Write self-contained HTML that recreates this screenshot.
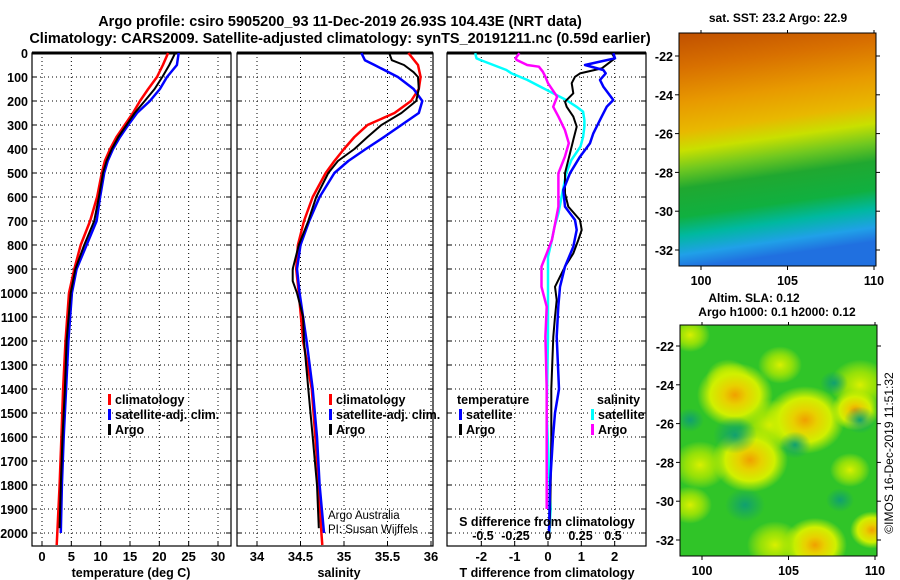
<!DOCTYPE html>
<html><head><meta charset="utf-8"><style>
body{margin:0;background:#fff;}
svg{display:block;font-family:"Liberation Sans",Arial,sans-serif;font-weight:bold;}
</style></head><body>
<svg id="s" width="900" height="580" viewBox="0 0 900 580">
<defs>
<linearGradient id="sst" x1="0" y1="0" x2="0.12" y2="1">
<stop offset="0" stop-color="#c05000"/><stop offset="0.15" stop-color="#d87000"/>
<stop offset="0.3" stop-color="#e89a00"/><stop offset="0.42" stop-color="#e8b800"/>
<stop offset="0.5" stop-color="#c8e000"/><stop offset="0.58" stop-color="#70c820"/>
<stop offset="0.66" stop-color="#20a830"/><stop offset="0.78" stop-color="#10b040"/>
<stop offset="0.86" stop-color="#00b8a0"/><stop offset="0.94" stop-color="#20a0e8"/>
<stop offset="1" stop-color="#2070e0"/></linearGradient>
<radialGradient id="ye"><stop offset="0" stop-color="#f0a000"/><stop offset="0.3" stop-color="#e8d000"/><stop offset="0.65" stop-color="#d0f000"/><stop offset="1" stop-color="#c8f000" stop-opacity="0"/></radialGradient>
<radialGradient id="yl"><stop offset="0" stop-color="#d8f000"/><stop offset="0.5" stop-color="#b0e800" stop-opacity="0.8"/><stop offset="1" stop-color="#c8f000" stop-opacity="0"/></radialGradient>
<radialGradient id="tl"><stop offset="0" stop-color="#10a070"/><stop offset="1" stop-color="#10a070" stop-opacity="0"/></radialGradient>
<clipPath id="slaclip"><rect x="680" y="325" width="197" height="231"/></clipPath>
</defs>
<g id="g"></g>
</svg>
<script>
// ===== data =====
const depthTicks=[0,100,200,300,400,500,600,700,800,900,1000,1100,1200,1300,1400,1500,1600,1700,1800,1900,2000];
const tTicks=[0,5,10,15,20,25,30];
const sTicks=[34,34.5,35,35.5,36];
const dTicks=[-2,-1,0,1,2];
const dsTicks=[-0.5,-0.25,0,0.25,0.5];
const tClimDepth=[0,50,100,150,200,250,300,350,400,450,500,600,700,800,900,1000,1200,1400,1600,1800,2000,2050];
const tClim=[21.5,20.6,19.6,18.1,16.7,15.5,14.1,12.7,11.6,10.7,10.2,9.4,8.2,6.6,5.5,4.6,4.0,3.6,3.3,3.0,2.6,2.5];
const tSatDepth=[0,50,100,150,200,250,300,350,400,450,500,600,700,800,900,1000,1200,1400,1600,1800,2000];
const tSat=[23.3,23.0,21.3,20.1,18.4,16.2,14.7,13.3,12.1,11.2,10.6,9.9,9.3,7.6,5.9,5.1,4.5,4.1,3.7,3.4,3.2];
const tArgoDepth=[0,50,100,150,200,250,300,350,400,450,500,600,700,800,900,1000,1200,1400,1600,1800,1980];
const tArgo=[22.7,21.7,20.5,19.2,17.5,15.8,14.4,13.0,11.9,11.0,10.4,9.7,8.9,7.2,5.7,4.9,4.2,3.9,3.5,3.2,3.0];
const sClimDepth=[0,50,100,150,200,250,300,350,400,450,500,600,700,800,900,1000,1200,1400,1600,1800,2000,2050];
const sClim=[35.74,35.85,35.88,35.86,35.77,35.58,35.27,35.12,35.0,34.89,34.79,34.64,34.54,34.47,34.45,34.48,34.53,34.63,34.67,34.71,34.74,34.75];
const sSatDepth=[0,30,50,100,150,200,250,300,350,400,450,500,600,700,800,900,1000,1200,1400,1600,1800,2000];
const sSat=[35.2,35.24,35.35,35.62,35.8,35.9,35.86,35.66,35.46,35.25,35.05,34.89,34.72,34.6,34.5,34.46,34.49,34.57,34.64,34.69,34.72,34.77];
const sArgoDepth=[0,30,50,80,100,150,200,250,300,350,400,450,500,600,700,800,900,950,1000,1100,1200,1400,1600,1800,1980];
const sArgo=[35.52,35.55,35.69,35.8,35.85,35.86,35.83,35.66,35.43,35.27,35.12,34.93,34.82,34.68,34.59,34.48,34.41,34.41,34.46,34.53,34.54,34.59,34.64,34.69,34.71];
const dtSatDepth=[1,22,36,50,71,85,112,140,196,224,265,335,376,432,501,571,640,696,737,807,890,974,1057,1182,1400,1500,1600,1800,2000];
const dtSat=[1.96,2.01,1.56,1.11,1.66,1.73,1.56,1.66,1.96,1.76,1.61,1.36,1.26,0.96,0.66,0.46,0.51,0.81,0.86,0.76,0.51,0.36,0.31,0.26,0.33,0.21,0.15,0.06,0.03];
const dtArgoDepth=[1,22,64,85,99,126,168,203,224,265,307,362,418,501,585,640,696,737,779,835,890,974,1029,1099,1182,1400,1600,1800,1980];
const dtArgo=[1.91,2.01,1.61,0.96,0.81,0.71,0.76,0.51,0.56,0.76,0.86,0.76,0.66,0.51,0.51,0.61,0.96,1.01,0.91,0.76,0.51,0.21,0.26,0.21,0.16,0.1,0.1,0.08,0.05];
const dsSatDepth=[1,22,29,50,71,85,112,140,168,196,224,245,280,307,349,390,446,501,557,612,668,724,779,849,918,1057,1182,1500,1900,2000];
const dsSat=[-0.56,-0.55,-0.52,-0.42,-0.32,-0.28,-0.16,-0.06,0.04,0.14,0.22,0.27,0.28,0.28,0.27,0.25,0.18,0.14,0.12,0.10,0.08,0.05,0.03,0.0,0.0,0.0,0.0,-0.01,0.02,0.01];
const dsArgoDepth=[1,22,29,50,57,78,99,126,182,224,265,321,376,432,501,571,640,724,779,835,890,974,1057,1182,1400,1500,1900];
const dsArgo=[-0.22,-0.25,-0.24,-0.16,-0.07,-0.04,-0.02,0.0,0.07,0.04,0.08,0.13,0.16,0.13,0.08,0.08,0.08,0.05,0.03,-0.01,-0.05,-0.05,-0.01,-0.02,-0.01,-0.01,-0.01];
const lonTicks=[100,105,110];
const latTicks=[-22,-24,-26,-28,-30,-32];

// ===== helpers =====
const NS='http://www.w3.org/2000/svg';
const G=document.getElementById('g');
function mk(tag,attrs,parent){const e=document.createElementNS(NS,tag);for(const k in attrs)e.setAttribute(k,attrs[k]);(parent||G).appendChild(e);return e;}
function txt(x,y,s,size,anchor,parent,fill){const t=mk('text',{x:x,y:y,'font-size':size,'text-anchor':anchor||'middle',fill:fill||'#000'},parent);t.textContent=s;return t;}
const Y0=53,YK=0.24,YB=546;
const yD=d=>Y0+d*YK;
function lin(d0,d1,r0,r1){return v=>r0+(v-d0)*(r1-r0)/(d1-d0);}

function panel(name,x0,x1,xs,xticks,fmt,gridTicks){
  const g=mk('g',{});
  
  
  const grid=mk('g',{stroke:'#000','stroke-width':1,'stroke-dasharray':'1,3'},g);
  
  
  depthTicks.forEach(d=>{if(d>0)mk('line',{x1:x0,x2:x1,y1:yD(d),y2:yD(d)},grid);});
  (gridTicks||xticks).forEach(v=>{mk('line',{x1:xs(v),x2:xs(v),y1:Y0,y2:YB},grid);});
  mk('rect',{x:x0,y:Y0,width:x1-x0,height:YB-Y0,fill:'none',stroke:'#000','stroke-width':1.2},g);
  mk('line',{x1:x0,x2:x1,y1:Y0,y2:Y0,stroke:'#000','stroke-width':3},g);
  depthTicks.forEach(d=>{mk('line',{x1:x0,x2:x0+5,y1:yD(d),y2:yD(d),stroke:'#000'},g);mk('line',{x1:x1-5,x2:x1,y1:yD(d),y2:yD(d),stroke:'#000'},g);});
  xticks.forEach(v=>{mk('line',{x1:xs(v),x2:xs(v),y1:YB,y2:YB-5,stroke:'#000'},g);
    const t=txt(xs(v),561,fmt(v),13,'middle',g);
    
    });
  return g;
}
function series(name,ds,vs,xs,color,w,parent){
  let d='';ds.forEach((dd,i)=>{d+=(i?'L':'M')+xs(vs[i]).toFixed(1)+','+yD(dd).toFixed(1);});
  const p=mk('path',{d:d,fill:'none',stroke:color,'stroke-width':w,'stroke-linejoin':'round'},parent);
  
  
}
function legend(x,y,color,label,parent){
  mk('rect',{x:x,y:y-10,width:3,height:11,fill:color},parent);
  const t=txt(x+7,y,label,12.5,'start',parent);
  
  
}

// titles
let t1=txt(340,26,'Argo profile: csiro 5905200_93 11-Dec-2019 26.93S 104.43E (NRT data)',14.5,'middle');


let t2=txt(340,43,'Climatology: CARS2009. Satellite-adjusted climatology: synTS_20191211.nc (0.59d earlier)',14.5,'middle');



// depth labels
depthTicks.forEach(d=>{const t=txt(28,yD(d)+5,String(d),12.5,'end');
  
  });

// Panel 1 temperature
const xT=lin(0,30,42,218);
const p1=panel('temperature-panel',32,231,xT,tTicks,v=>String(v));
series('temp-climatology',tClimDepth,tClim,xT,'#f00',2.5,p1);
series('temp-satellite-adj',tSatDepth,tSat,xT,'#00f',2.5,p1);
series('temp-argo',tArgoDepth,tArgo,xT,'#000',2,p1);
legend(108,404,'#f00','climatology',p1);legend(108,419,'#00f','satellite-adj. clim.',p1);legend(108,434,'#000','Argo',p1);
let a1=txt(131,577,'temperature (deg C)',12.5,'middle');



// Panel 2 salinity
const xS=lin(34,36,257,431);
const p2=panel('salinity-panel',237,433,xS,sTicks,v=>String(v));
series('sal-climatology',sClimDepth,sClim,xS,'#f00',2.5,p2);
series('sal-satellite-adj',sSatDepth,sSat,xS,'#00f',2.5,p2);
series('sal-argo',sArgoDepth,sArgo,xS,'#000',2,p2);
legend(329,404,'#f00','climatology',p2);legend(329,419,'#00f','satellite-adj. clim.',p2);legend(329,434,'#000','Argo',p2);
let cr1=txt(328,519,'Argo Australia',11.5,'start',p2);cr1.setAttribute('font-weight','normal');


let cr2=txt(328,533,'PI: Susan Wijffels',11.5,'start',p2);cr2.setAttribute('font-weight','normal');


let a2=txt(339,577,'salinity',12.5,'middle');



// Panel 3 differences
const xD=lin(-3,3,448,648);
const xDS=lin(-0.5,0.5,483,613);
const p3=panel('difference-panel',447,646,xD,dTicks,v=>String(v));
series('sal-diff-satellite',dsSatDepth,dsSat,xDS,'#0ff',2.5,p3);
series('sal-diff-argo',dsArgoDepth,dsArgo,xDS,'#f0f',2.5,p3);
series('temp-diff-argo',dtArgoDepth,dtArgo,xD,'#000',2,p3);
series('temp-diff-satellite',dtSatDepth,dtSat,xD,'#00f',2.5,p3);
txt(457,404,'temperature',12.5,'start',p3);
legend(459,419,'#00f','satellite',p3);legend(459,434,'#000','Argo',p3);
txt(597,404,'salinity',12.5,'start',p3);
legend(591,419,'#0ff','satellite',p3);legend(591,434,'#f0f','Argo',p3);
let sl=txt(547,526,'S difference from climatology',12.5,'middle',p3);


dsTicks.forEach(v=>{const t=txt(xDS(v),540,String(v),12.5,'middle',p3);
  
  });
let a3=txt(547,577,'T difference from climatology',12.5,'middle');



// Maps
function map(name,x0,y0,x1,y1,lat22,lat32,fill,extra){
  const g=mk('g',{});
  
  
  mk('rect',{x:x0,y:y0,width:x1-x0,height:y1-y0,fill:fill},g);
  if(extra)extra(g);
  mk('rect',{x:x0,y:y0,width:x1-x0,height:y1-y0,fill:'none',stroke:'#000','stroke-width':1},g);
  const xl=lin(100,110,x0+22,x1-2);
  const yl=lin(-22,-32,lat22,lat32);
  lonTicks.forEach(v=>{mk('line',{x1:xl(v),x2:xl(v),y1:y1,y2:y1+4,stroke:'#000'},g);mk('line',{x1:xl(v),x2:xl(v),y1:y0,y2:y0-3,stroke:'#000'},g);
    txt(xl(v),y1+19,String(v),12.5,'middle',g);});
  latTicks.forEach(v=>{mk('line',{x1:x0-4,x2:x0,y1:yl(v),y2:yl(v),stroke:'#000'},g);mk('line',{x1:x1,x2:x1+4,y1:yl(v),y2:yl(v),stroke:'#000'},g);
    txt(x0-6,yl(v)+5,String(v),12.5,'end',g);});
  return g;
}
let m1t=txt(778,22,'sat. SST: 23.2 Argo: 22.9',12,'middle');


map('sst-map',679,33,876,266,56,250,'url(#sst)');
let m2a=txt(754,302,'Altim. SLA: 0.12',12,'middle');


let m2b=txt(777,316,'Argo h1000: 0.1 h2000: 0.12',12,'middle');


map('sla-map',680,325,877,556,346,540,'#30c428',g=>{
  const cg=mk('g',{'clip-path':'url(#slaclip)'},g);
  const blobs=[[690,335,20,'yl'],[728,378,22,'yl'],[780,365,22,'yl'],[735,395,38,'ye'],[770,425,30,'yl'],[805,420,40,'ye'],[860,385,30,'yl'],[855,410,24,'ye'],[750,460,38,'ye'],[700,465,28,'yl'],[690,505,22,'yl'],[815,545,32,'ye'],[872,530,22,'ye'],[775,545,28,'yl'],[850,470,20,'yl'],
    [735,435,22,'tl'],[795,445,16,'tl'],[834,383,14,'tl'],[860,420,16,'tl'],[840,500,14,'tl'],[745,505,20,'tl'],[690,420,14,'tl']];
  blobs.forEach(b=>mk('ellipse',{cx:b[0],cy:b[1],rx:b[2],ry:b[2]*0.85,fill:'url(#'+b[3]+')'},cg));
});
let cp=txt(0,0,'©IMOS 16-Dec-2019 11:51:32',12,'middle');
cp.setAttribute('font-weight','normal');
cp.setAttribute('transform','translate(893,453) rotate(-90)');


</script>
</body></html>
